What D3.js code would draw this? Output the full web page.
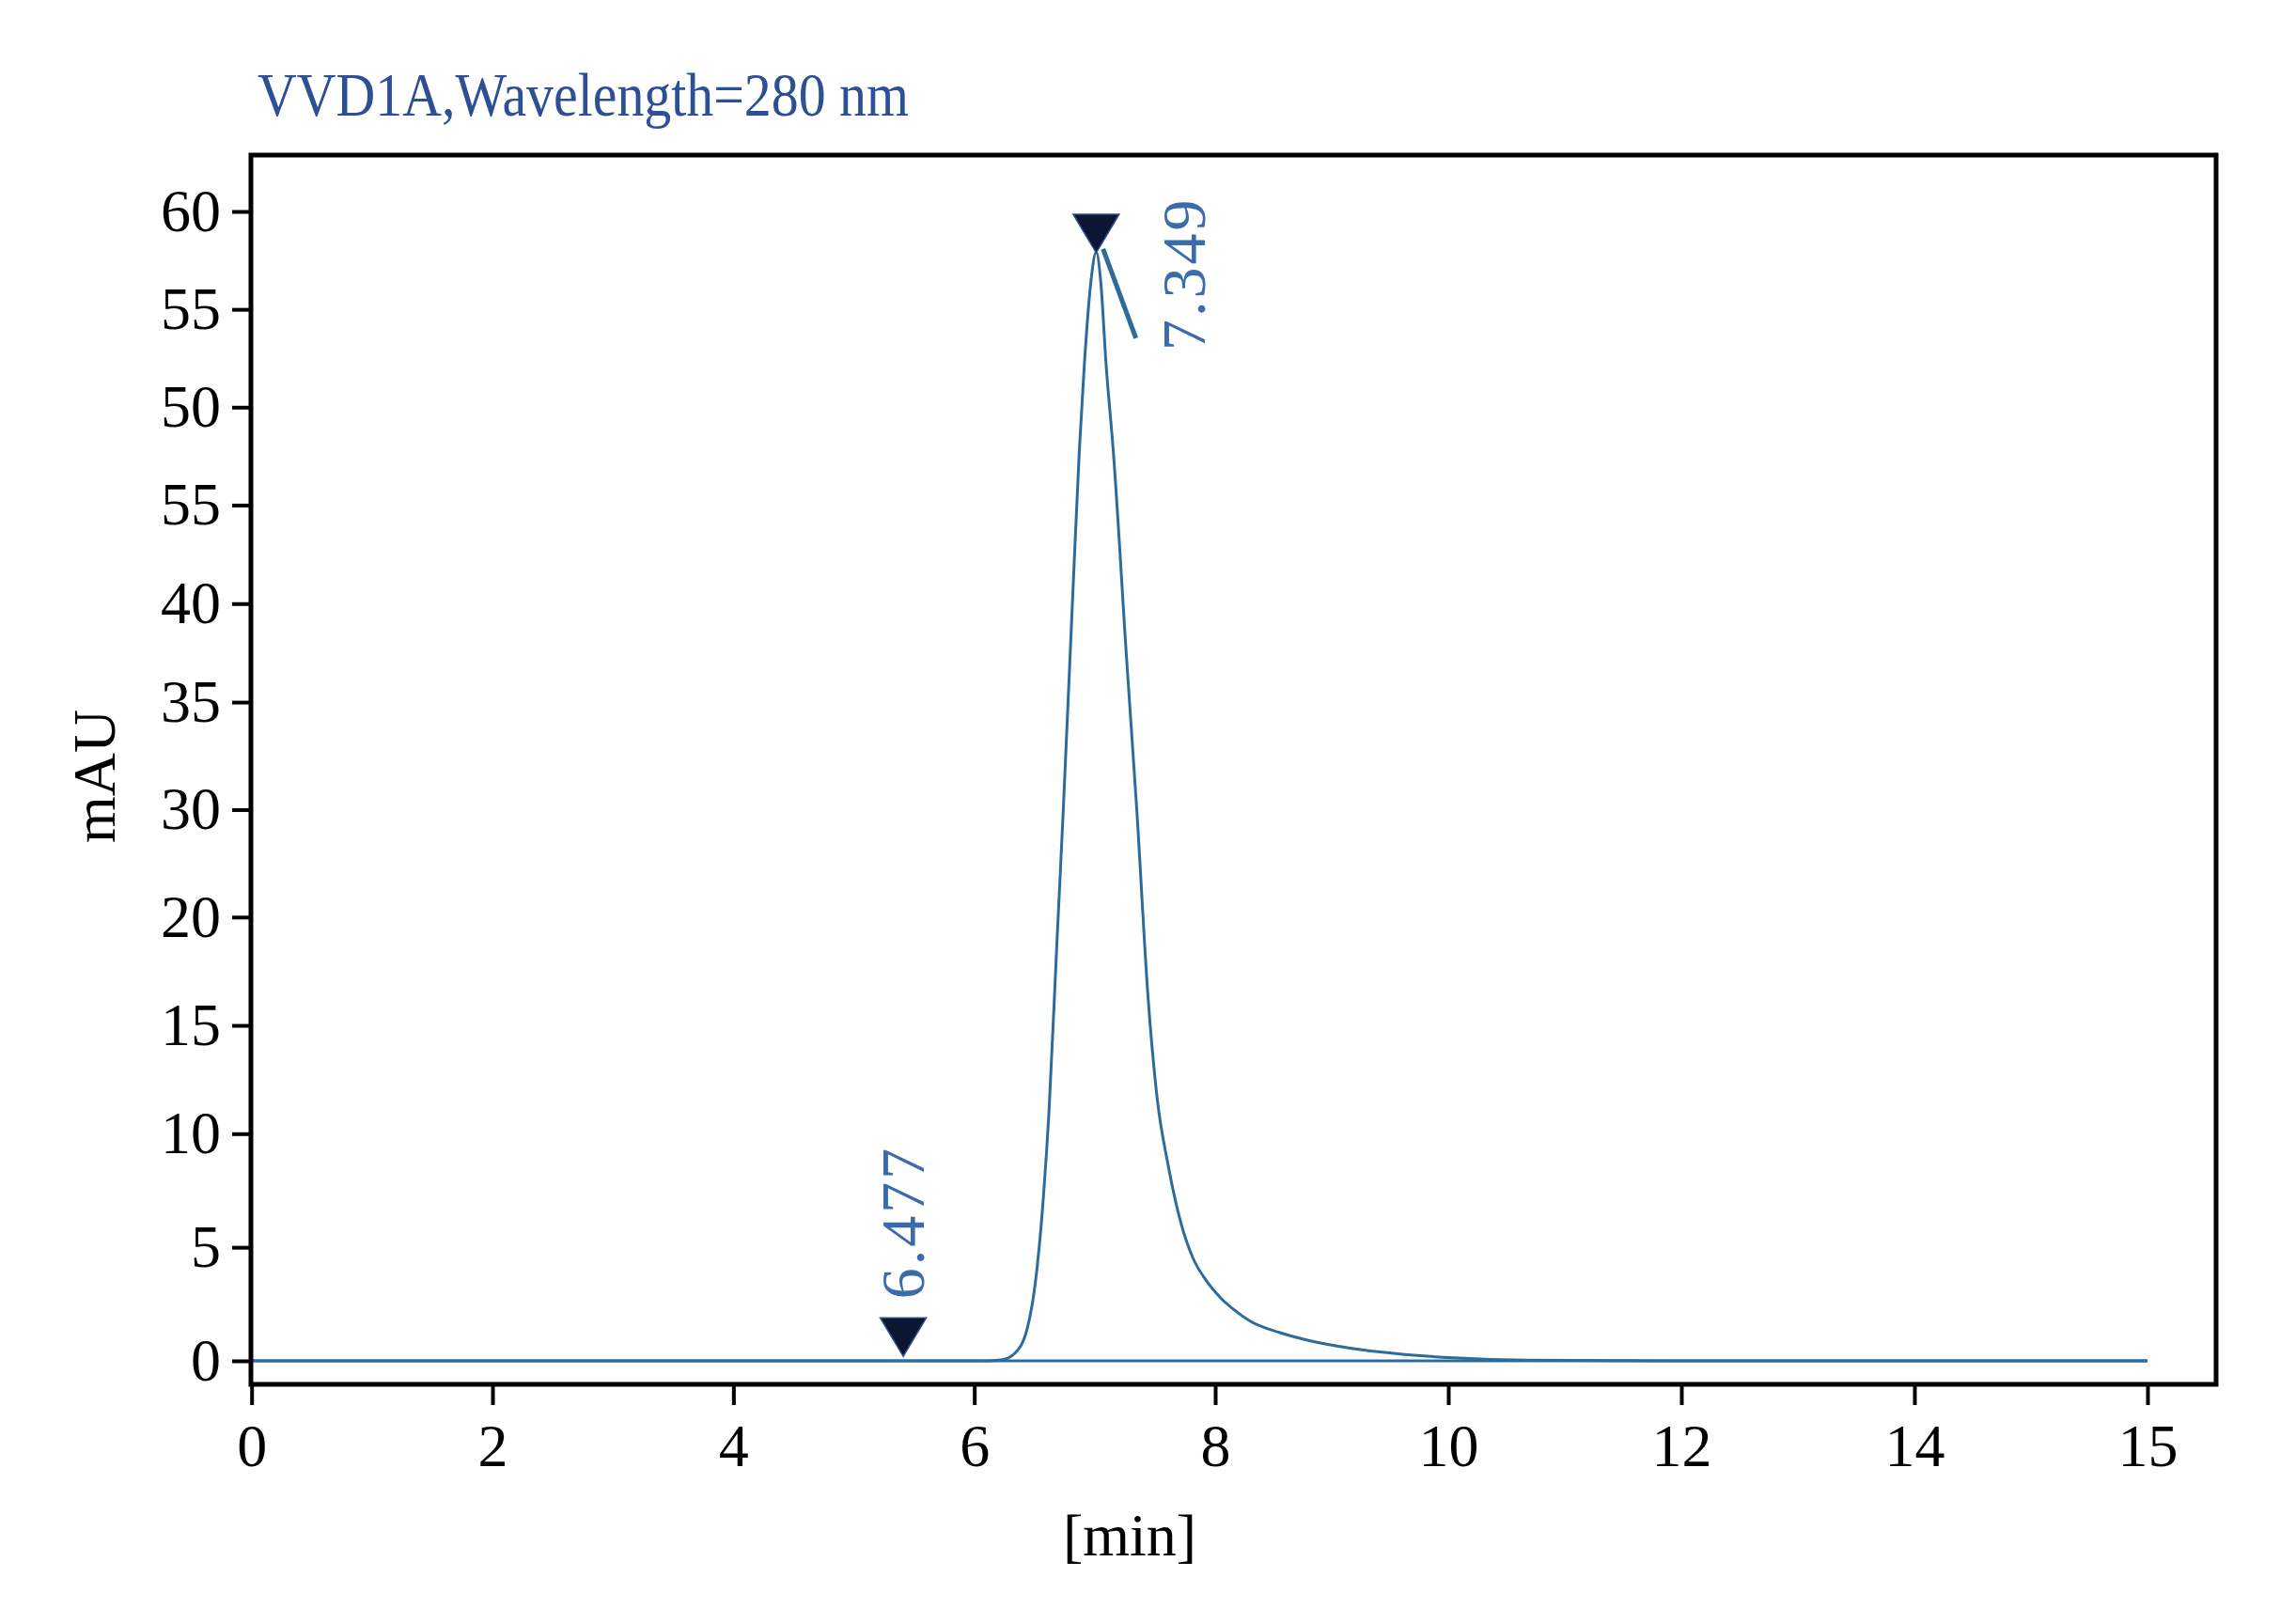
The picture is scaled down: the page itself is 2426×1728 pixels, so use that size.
<!DOCTYPE html>
<html>
<head>
<meta charset="utf-8">
<script src="https://cdn.jsdelivr.net/npm/d3@7"></script>
<style>
  html, body { margin: 0; padding: 0; background: #fff; }
  svg { display: block; }
  text { font-family: "Liberation Serif", "Times New Roman", serif; }
</style>
</head>
<body>
<svg width="2426" height="1728"></svg>
<script>
// chromatogram trace
const timeMin = [0, 6.10, 6.232, 6.336, 6.44, 6.505, 6.57, 6.62, 6.685, 6.739, 6.815, 6.872, 6.914,
  6.968, 7.012, 7.05, 7.094, 7.154, 7.264, 7.349, 7.444, 7.519, 7.61, 7.714, 7.818, 7.93, 8.05,
  8.149, 8.30, 8.55, 8.80, 9.17, 9.55, 10.05, 10.67, 12.0, 16.0];
const signalMAU = [0, 0, 0.05, 0.33, 1.43, 3.36, 6.95, 11.0, 18.7, 25.0, 35.08, 42.77, 47.2,
  51.4, 52.92, 51.4, 47.2, 42.76, 32.25, 25.0, 16.2, 11.6, 8.6, 6.1, 4.5, 3.5, 2.75,
  2.3, 1.75, 1.25, 0.9, 0.55, 0.32, 0.13, 0.03, 0, 0];

const baselineTime = [0, 16];
const baselineMAU = [0, 0];

// short straight stroke next to the apex
const tangentTime = [7.069, 7.342];
const tangentMAU = [53.08, 48.52];

// peak markers
const peakTimes = [5.41, 7.012];
const peakMAU = [0.2, 52.89];
const peakLabels = ["6.477", "7.349"];

// axis ticks (labels as printed on the original)
const xTickValues = [0, 2, 4, 6, 8, 10, 12, 14, 16];
const xTickLabels = ["0", "2", "4", "6", "8", "10", "12", "14", "15"];
const yTickValues = [0, 5, 10, 15, 20, 25, 30, 35, 40, 45, 50, 55];
const yTickLabels = ["0", "5", "10", "15", "20", "30", "35", "40", "55", "50", "55", "60"];

const titleText = "VVD1A,Wavelength=280 nm";

const svg = d3.select("svg"),
      margin = {top: 165, right: 68, bottom: 255, left: 267},
      width = +svg.attr("width") - margin.left - margin.right,
      height = +svg.attr("height") - margin.top - margin.bottom;

const lineColor = "#2d6b9b";
const labelColor = "#3a6cab";

const g = svg.append("g").attr("transform", `translate(${margin.left},${margin.top})`);

// the printed axes are not evenly spaced, so both scales are piecewise
const x = d3.scaleLinear().domain([0, 8, 16]).range([0.7, 1026, 2018]);
const y = d3.scaleLinear()
  .domain([0, 10, 20, 30, 40, 55])
  .range([1283, 1041.3, 810.8, 582.1, 372.4, 60]);

// title
svg.append("text")
  .attr("x", 274)
  .attr("y", 123)
  .attr("fill", "#2d4f95")
  .style("font-size", "66px")
  .attr("textLength", 693)
  .attr("lengthAdjust", "spacingAndGlyphs")
  .text(titleText);

// axes
const xAxis = g.append("g")
  .attr("transform", `translate(0,${height})`)
  .call(d3.axisBottom(x)
    .tickValues(xTickValues)
    .tickFormat((d, i) => xTickLabels[i])
    .tickSize(22)
    .tickPadding(20));

const yAxis = g.append("g")
  .call(d3.axisLeft(y)
    .tickValues(yTickValues)
    .tickFormat((d, i) => yTickLabels[i])
    .tickSize(20)
    .tickPadding(12));

[xAxis, yAxis].forEach(ax => {
  ax.select(".domain").remove();
  ax.selectAll(".tick line").attr("stroke", "#000").attr("stroke-width", 4);
  ax.selectAll(".tick text")
    .attr("fill", "#000")
    .style("font-family", "'Liberation Serif', serif")
    .style("font-size", "64px");
});

g.append("text")
  .attr("x", 1202 - margin.left)
  .attr("y", 1655 - margin.top)
  .attr("text-anchor", "middle")
  .attr("fill", "#000")
  .style("font-size", "64px")
  .text("[min]");

g.append("text")
  .attr("transform", `translate(${122 - margin.left},${826 - margin.top}) rotate(-90)`)
  .attr("text-anchor", "middle")
  .attr("fill", "#000")
  .style("font-size", "64px")
  .text("mAU");

// traces
const line = d3.line()
  .x(d => x(d[0]))
  .y(d => y(d[1]))
  .curve(d3.curveMonotoneX);

g.append("path")
  .datum(baselineTime.map((t, i) => [t, baselineMAU[i]]))
  .attr("fill", "none")
  .attr("stroke", lineColor)
  .attr("stroke-width", 3)
  .attr("d", line);

g.append("path")
  .datum(timeMin.map((t, i) => [t, signalMAU[i]]))
  .attr("fill", "none")
  .attr("stroke", lineColor)
  .attr("stroke-width", 3)
  .attr("stroke-linejoin", "round")
  .attr("d", line);

g.append("path")
  .datum(tangentTime.map((t, i) => [t, tangentMAU[i]]))
  .attr("fill", "none")
  .attr("stroke", lineColor)
  .attr("stroke-width", 5)
  .attr("d", d3.line().x(d => x(d[0])).y(d => y(d[1])));

// peak markers + retention time labels
const peaks = peakTimes.map((t, i) => ({t: t, v: peakMAU[i], label: peakLabels[i]}));

const mk = g.selectAll(".peak")
  .data(peaks)
  .join("g")
  .attr("class", "peak")
  .attr("transform", d => `translate(${x(d.t)},${y(d.v)})`);

mk.append("path")
  .attr("d", "M0,0 L-24.5,-41 L24.5,-41 Z")
  .attr("fill", "#0c1633")
  .attr("stroke", "#2c4f8a")
  .attr("stroke-width", 1.5);

mk.append("text")
  // tall peak gets its label to the right, small one above the marker
  .attr("transform", d => d.v > 30 ? "translate(116,104) rotate(-90)" : "translate(22,-61) rotate(-90)")
  .attr("fill", labelColor)
  .style("font-size", "66px")
  .style("letter-spacing", "3px")
  .text(d => d.label);

// frame
g.append("rect")
  .attr("x", 0)
  .attr("y", 0)
  .attr("width", width)
  .attr("height", height)
  .attr("fill", "none")
  .attr("stroke", "#000")
  .attr("stroke-width", 5);
</script>
</body>
</html>
